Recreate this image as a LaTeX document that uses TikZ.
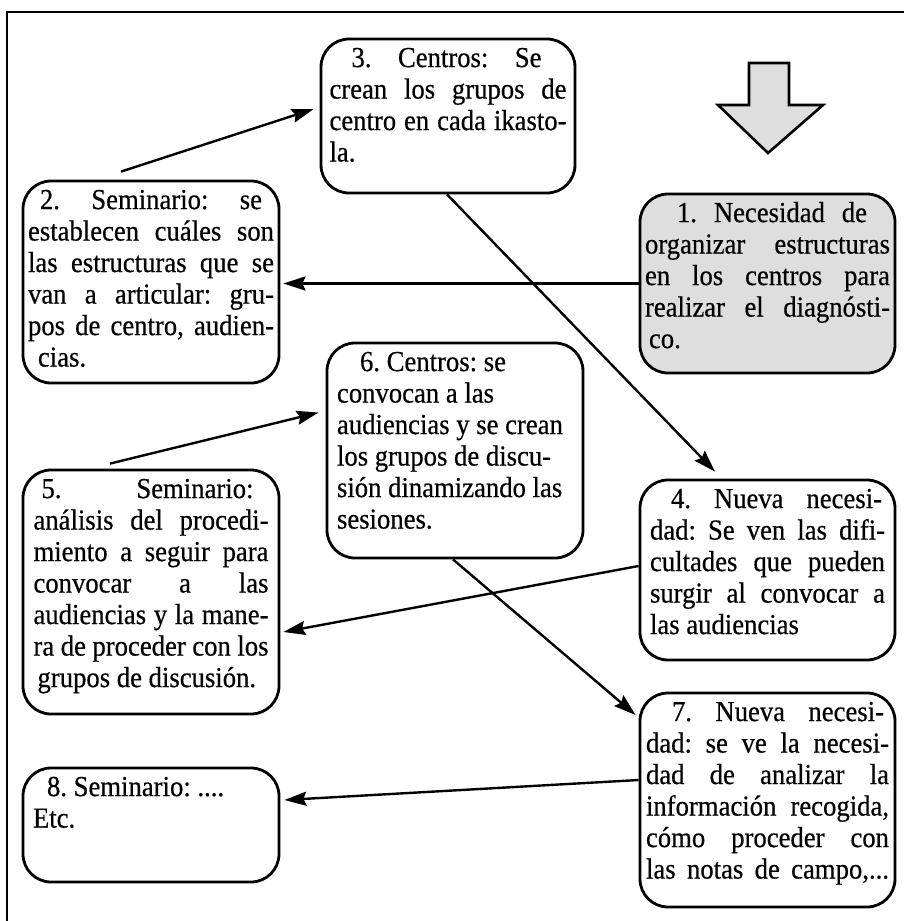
\documentclass[tikz,border=0pt]{standalone}
\usepackage{fontspec}
\setmainfont{Liberation Serif}[FakeStretch=0.92,FakeBold=0.5]
\usetikzlibrary{arrows.meta,calc}
\newcommand{\J}[2]{\makebox[#1][s]{#2}}
\newcommand{\bx}[3]{\parbox[c][#2][t]{#1}{\fontsize{14.5}{15.75}\selectfont\frenchspacing\vspace*{3pt}\strut#3}}
\tikzset{
  box/.style={draw, line width=1.4pt, rounded corners=14pt, inner ysep=0pt, fill=white},
  conn/.style={line width=1.2pt, -{Stealth[length=11pt,width=7pt,inset=1.5pt]}},
  bigarrow/.style={draw, line width=1.3pt, fill=black!13, line join=miter}
}
\begin{document}
\begin{tikzpicture}[x=0.5pt,y=-0.5pt]
\useasboundingbox (0,0) rectangle (904,921);
\clip (0,0) rectangle (904,921);
\draw[line width=1.3pt] (7,12) rectangle (930,950);

% big down arrow
\path[bigarrow] (749,63) -- (789,63) -- (789,105) -- (823,105) -- (768,153) -- (718,105) -- (749,105) -- cycle;

\node[box, inner xsep=4.25pt] (b3) at (448,116) {\bx{118.5pt}{77pt}{%
\hspace*{11pt}\J{95pt}{3. Centros: Se}\\
\J{118.5pt}{crean los grupos de}\\
\J{118.5pt}{centro en cada ikasto-}\\
la.}};

\node[box, inner xsep=2.5pt, fill=black!13] (b1) at (767.5,283.5) {\bx{122.5pt}{89.5pt}{%
\hspace*{16pt}\J{95pt}{1. Necesidad de}\\
\J{122.5pt}{organizar estructuras}\\
\J{122.5pt}{en los centros para}\\
\J{122.5pt}{realizar el diagnósti-}\\
\hspace*{2pt}co.}};

\node[box, inner xsep=2.5pt] (b2) at (151,282) {\bx{123pt}{101pt}{%
\hspace*{6pt}\J{111pt}{2. Seminario: se}\\
\J{123pt}{establecen cuáles son}\\
\J{123pt}{las estructuras que se}\\
\J{123pt}{van a articular: gru-}\\
\J{123pt}{pos de centro, audien-}\\
\hspace*{5pt}cias.}};

\node[box, inner xsep=5pt] (b6) at (455,450.5) {\bx{118pt}{107.5pt}{%
\hspace*{11.5pt}6. Centros: se\\
convocan a las\\
audiencias y se crean\\
los grupos de discu-\\
sión dinamizando las\\
sesiones.}};

\node[box, inner xsep=5.25pt] (b5) at (151,592) {\bx{117.5pt}{122pt}{%
\hspace*{4pt}\J{106pt}{5. Seminario:}\\
\J{117.5pt}{análisis del procedi-}\\
\J{117.5pt}{miento a seguir para}\\
\J{117.5pt}{convocar a las}\\
\J{117.5pt}{audiencias y la mane-}\\
\J{117.5pt}{ra de proceder con los}\\
\hspace*{2pt}grupos de discusión.}};

\node[box, inner xsep=5pt] (b4) at (767.5,570) {\bx{117.5pt}{90pt}{%
\hspace*{10.5pt}\J{105.5pt}{4. Nueva necesi-}\\
\J{117.5pt}{dad: Se ven las difi-}\\
\J{117.5pt}{cultades que pueden}\\
\J{117.5pt}{surgir al convocar a}\\
las audiencias}};

\node[box, inner xsep=3pt] (b7) at (767.5,800) {\bx{121.5pt}{107pt}{%
\hspace*{13pt}\J{106pt}{7. Nueva necesi-}\\
\J{121.5pt}{dad: se ve la necesi-}\\
\J{121.5pt}{dad de analizar la}\\
\J{121.5pt}{información recogida,}\\
\J{121.5pt}{cómo proceder con}\\
\J{121.5pt}{las notas de campo,...}}};

\node[box, inner xsep=5pt] (b8) at (151,825) {\bx{118pt}{57pt}{%
\hspace*{7pt}8. Seminario: ....\\
Etc.}};

% connectors
\draw[conn] ($(b2.north)+(-30,-8)$) -- ($(b3.west)+(-6,-7)$);
\draw[conn] (b1.west) -- ($(b1.west -| b2.east)+(3,0)$);
\draw[conn] ($(b3.south)+(-1,0)$) -- ($(b4.north)+(-52.5,-7)$);
\draw[conn] ($(b4.west)+(0,-4)$) -- ($(b5.east)+(3,40)$);
\draw[conn] ($(b5.north)+(-41,-5)$) -- ($(b6.west)+(-7,-38)$);
\draw[conn] ($(b6.south)+(-2,0)$) -- ($(b7.west)+(-3,-85)$);
\draw[conn] ($(b7.west)+(0,-20)$) -- ($(b8.east)+(4,-25)$);
\end{tikzpicture}
\end{document}
